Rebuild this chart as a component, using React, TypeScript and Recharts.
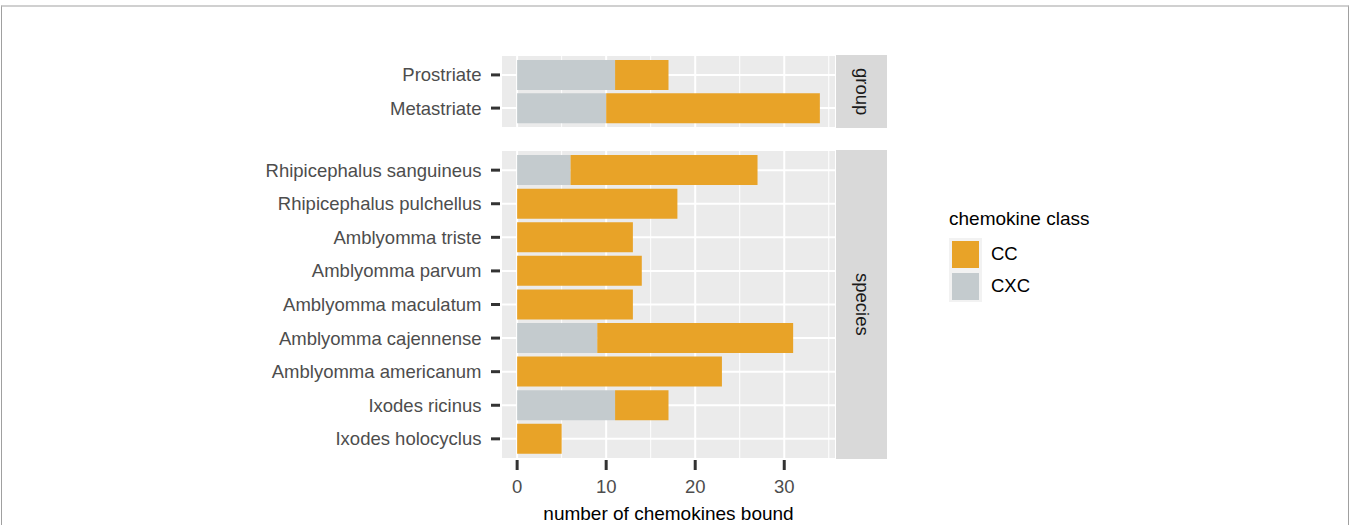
import React from 'react';
import { BarChart, Bar, XAxis, YAxis, CartesianGrid, Legend } from 'recharts';

// facet "group"
const groupNames = ['Prostriate', 'Metastriate'];
const groupCXC = [11, 10];
const groupCC = [6, 24];

// facet "species"
const speciesNames = [
  'Rhipicephalus sanguineus',
  'Rhipicephalus pulchellus',
  'Amblyomma triste',
  'Amblyomma parvum',
  'Amblyomma maculatum',
  'Amblyomma cajennense',
  'Amblyomma americanum',
  'Ixodes ricinus',
  'Ixodes holocyclus',
];
const speciesCXC = [6, 0, 0, 0, 0, 9, 0, 11, 0];
const speciesCC = [21, 18, 13, 14, 13, 22, 23, 6, 5];

const classNames = ['CC', 'CXC'];
const majorTicks = [0, 10, 20, 30];
const minorTicks = [5, 15, 25, 35];
const xDomain = [-1.7, 35.7];

const COLORS: Record<string, string> = { CC: '#E8A328', CXC: '#C4CBCE' };
const FONT = '"Liberation Sans", Arial, Helvetica, sans-serif';
const PANEL_BG = '#EBEBEB';
const STRIP_BG = '#D9D9D9';

const groupData = groupNames.map((name, i) => ({ name, CXC: groupCXC[i], CC: groupCC[i] }));
const speciesData = speciesNames.map((name, i) => ({ name, CXC: speciesCXC[i], CC: speciesCC[i] }));

// ggplot-like discrete expansion: 0.6 of a band on each side -> 0.1 band of padding
const padFor = (h: number, n: number) => {
  const band = h / (n + 0.2);
  return Math.round(band * 0.1 * 100) / 100;
};

const YTick = (props: any) => {
  const { x, y, payload } = props;
  return (
    <g>
      <line x1={x - 11} x2={x - 2} y1={y} y2={y} stroke="#333333" strokeWidth={3} />
      <text x={x - 20.5} y={y} dy="0.355em" textAnchor="end" fill="#4D4D4D" fontSize={18.5} fontFamily={FONT}>
        {payload.value}
      </text>
    </g>
  );
};

const XTick = (props: any) => {
  const { x, y, payload } = props;
  return (
    <g>
      <line x1={x} x2={x} y1={y + 1} y2={y + 11} stroke="#333333" strokeWidth={3} />
      <text x={x} y={y + 34} textAnchor="middle" fill="#4D4D4D" fontSize={18.5} fontFamily={FONT}>
        {payload.value}
      </text>
    </g>
  );
};

const LegendBox = () => (
  <div style={{ fontFamily: FONT }}>
    <div style={{ fontSize: 19, lineHeight: '22px', color: '#000', whiteSpace: 'nowrap' }}>chemokine class</div>
    <div style={{ marginTop: 8 }}>
      {classNames.map((c) => (
        <div key={c} style={{ display: 'flex', alignItems: 'center', height: 32 }}>
          <div
            style={{
              width: 33,
              height: 32,
              background: '#F2F2F2',
              display: 'flex',
              alignItems: 'center',
              justifyContent: 'center',
            }}
          >
            <div style={{ width: 27, height: 27, background: COLORS[c] }} />
          </div>
          <span style={{ marginLeft: 9, fontSize: 18.5, color: '#000' }}>{c}</span>
        </div>
      ))}
    </div>
  </div>
);

const Strip = ({ label, top, height }: { label: string; top: number; height: number }) => (
  <div
    style={{
      position: 'absolute',
      left: 836,
      top,
      width: 51,
      height,
      background: STRIP_BG,
      display: 'flex',
      alignItems: 'center',
      justifyContent: 'center',
    }}
  >
    <span style={{ writingMode: 'vertical-rl', fontSize: 18.5, color: '#1A1A1A', fontFamily: FONT }}>{label}</span>
  </div>
);

const Grids = () => null;

export default function App() {
  const topH = 73;
  const botPlotH = 309;
  return (
    <div
      style={{
        position: 'absolute',
        left: 0,
        top: 0,
        width: 1351,
        height: 525,
        overflow: 'hidden',
        background: '#fff',
        fontFamily: FONT,
      }}
    >
      {/* figure frame */}
      <div
        style={{
          position: 'absolute',
          left: 1,
          top: 5,
          width: 1346,
          height: 540,
          borderTop: '2px solid #D0D0D0',
          borderLeft: '1px solid #A0A0A0',
          borderRight: '1px solid #A0A0A0',
        }}
      />

      {/* group panel */}
      <div style={{ position: 'absolute', left: 0, top: 55 }}>
        <BarChart
          width={835}
          height={topH}
          layout="vertical"
          data={groupData}
          margin={{ top: 0, right: 0, bottom: 0, left: 0 }}
          barCategoryGap="5%"
        >
          <CartesianGrid fill={PANEL_BG} stroke="#fff" strokeWidth={1} horizontal={false} verticalValues={minorTicks} />
          <CartesianGrid fill="none" stroke="#fff" strokeWidth={2} verticalValues={majorTicks} />
          <XAxis type="number" domain={xDomain} ticks={majorTicks} allowDataOverflow hide />
          <YAxis
            type="category"
            dataKey="name"
            width={502}
            interval={0}
            padding={{ top: padFor(topH, groupNames.length), bottom: padFor(topH, groupNames.length) }}
            axisLine={false}
            tickLine={false}
            tickSize={0}
            tickMargin={0}
            tick={(p: any) => <YTick {...p} />}
          />
          <Bar dataKey="CXC" stackId="a" fill={COLORS.CXC} isAnimationActive={false} />
          <Bar dataKey="CC" stackId="a" fill={COLORS.CC} isAnimationActive={false} />
        </BarChart>
      </div>
      <Strip label="group" top={55} height={topH} />

      {/* species panel with x axis and legend */}
      <div style={{ position: 'absolute', left: 0, top: 150 }}>
        <BarChart
          width={1351}
          height={375}
          layout="vertical"
          data={speciesData}
          margin={{ top: 0, right: 516, bottom: 0, left: 0 }}
          barCategoryGap="5%"
        >
          <CartesianGrid fill={PANEL_BG} stroke="#fff" strokeWidth={1} horizontal={false} verticalValues={minorTicks} />
          <CartesianGrid fill="none" stroke="#fff" strokeWidth={2} verticalValues={majorTicks} />
          <XAxis
            type="number"
            domain={xDomain}
            ticks={majorTicks}
            allowDataOverflow
            height={375 - botPlotH}
            axisLine={false}
            tickLine={false}
            tickSize={0}
            tickMargin={0}
            tick={(p: any) => <XTick {...p} />}
            label={{
              value: 'number of chemokines bound',
              position: 'insideBottom',
              offset: 5,
              fill: '#000',
              fontSize: 19,
              fontFamily: FONT,
            }}
          />
          <YAxis
            type="category"
            dataKey="name"
            width={502}
            interval={0}
            padding={{ top: padFor(botPlotH, speciesNames.length), bottom: padFor(botPlotH, speciesNames.length) }}
            axisLine={false}
            tickLine={false}
            tickSize={0}
            tickMargin={0}
            tick={(p: any) => <YTick {...p} />}
          />
          <Legend
            layout="horizontal"
            verticalAlign="middle"
            align="center"
            content={() => <LegendBox />}
            wrapperStyle={{ position: 'absolute', left: 949, top: 58, width: 200, height: 100 }}
          />
          <Bar dataKey="CXC" stackId="a" fill={COLORS.CXC} isAnimationActive={false} />
          <Bar dataKey="CC" stackId="a" fill={COLORS.CC} isAnimationActive={false} />
        </BarChart>
      </div>
      <Strip label="species" top={150} height={botPlotH} />
    </div>
  );
}
